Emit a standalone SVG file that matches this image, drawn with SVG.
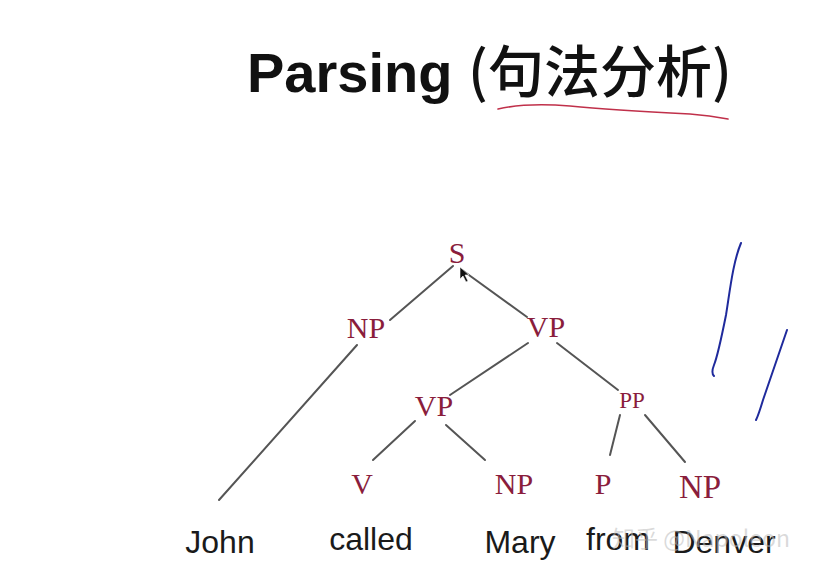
<svg xmlns="http://www.w3.org/2000/svg" width="824" height="574" viewBox="0 0 824 574">
<style>
.t{font-family:"Liberation Serif","DejaVu Serif",serif;fill:#8a1d3c;text-anchor:middle}
.w{font-family:"Liberation Sans",Arial,sans-serif;fill:#1a1a1a;text-anchor:middle;font-size:32px}
.e{stroke:#555;stroke-width:2;fill:none;stroke-linecap:round}
.pen{stroke:#1f2a9c;stroke-width:2;fill:none;stroke-linecap:round}
</style>
<rect width="824" height="574" fill="#fff"/>
<g id="title">
<text x="247" y="92" font-family="'Liberation Sans','Noto Sans CJK SC',sans-serif" font-weight="bold" font-size="56" fill="#111">Parsing <tspan font-family="'Noto Sans CJK SC',sans-serif" font-weight="500">(句法分析)</tspan></text>
<path d="M498,109 C520,104 545,104 570,106 C610,110 650,112 690,114 C705,115 718,117 728,119" stroke="#c0304a" stroke-width="1.6" fill="none" stroke-linecap="round"/>
</g>
<g id="connectors">
<line class="e" x1="453" y1="266" x2="390" y2="320"/>
<line class="e" x1="462" y1="270" x2="527" y2="317"/>
<line class="e" x1="357" y1="345" x2="219" y2="500"/>
<line class="e" x1="528" y1="343" x2="450" y2="395"/>
<line class="e" x1="557" y1="343" x2="618" y2="390"/>
<line class="e" x1="415" y1="421" x2="373" y2="460"/>
<line class="e" x1="446" y1="425" x2="485" y2="460"/>
<line class="e" x1="620" y1="415" x2="610" y2="455"/>
<line class="e" x1="645" y1="415" x2="685" y2="462"/>
</g>
<g id="n-S"><text class="t" x="457" y="263" font-size="30">S</text></g>
<g id="n-NP1"><text class="t" x="366" y="338" font-size="30">NP</text></g>
<g id="n-VP1"><text class="t" x="546" y="337" font-size="30">VP</text></g>
<g id="n-VP2"><text class="t" x="434" y="416" font-size="30">VP</text></g>
<g id="n-PP"><text class="t" x="632" y="408" font-size="23">PP</text></g>
<g id="n-V"><text class="t" x="362" y="494" font-size="30">V</text></g>
<g id="n-NP2"><text class="t" x="514" y="494" font-size="30">NP</text></g>
<g id="n-P"><text class="t" x="603" y="494" font-size="30">P</text></g>
<g id="n-NP3"><text class="t" x="700" y="498" font-size="33">NP</text></g>
<g id="w-John"><text class="w" x="220" y="553">John</text></g>
<g id="w-called"><text class="w" x="371" y="550">called</text></g>
<g id="w-Mary"><text class="w" x="520" y="553">Mary</text></g>
<g id="w-from"><text class="w" x="618" y="550">from</text></g>
<g id="w-Denver"><text class="w" x="724" y="553">Denver</text></g>
<g id="cursor"><path d="M460,267 L460,279 L463,276 L466,282 L468,281 L465,275 L469,275 Z" fill="#111" stroke="#fff" stroke-width="0.6"/></g>
<g id="pen">
<path class="pen" d="M741,243 C733,262 730,290 726,315 C722,335 718,355 714,365 C712,370 712,374 714,376"/>
<path class="pen" d="M787,330 C780,350 770,380 763,400 C760,410 758,416 756,420"/>
</g>
<g id="watermark"><text x="612" y="547" font-family="'Noto Sans CJK SC','Liberation Sans',sans-serif" font-size="23" fill="#bbb" fill-opacity="0.55">知乎 @Napoleon</text></g>
</svg>
